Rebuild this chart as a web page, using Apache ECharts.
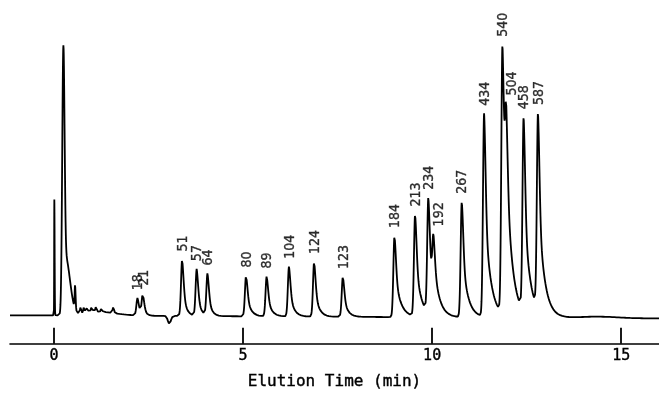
<!DOCTYPE html>
<html>
<head>
<meta charset="utf-8">
<script src="https://cdn.jsdelivr.net/npm/echarts@6/dist/echarts.min.js"></script>
<style>
html,body{margin:0;padding:0;background:#fff;}
#c{width:659px;height:395px;}
</style>
</head>
<body>
<div id="c"></div>
<script>
// ---- Data ----
const tickValues = [0, 5, 10, 15];
const axisTitle = 'Elution Time (min)';

// Labelled peaks (retention time in min, height above baseline, tail constant in min)
const peakLabels  = ['18','21','51','57','64','80','89','104','124','123','184','213','234','192','267','434','540','504','458','587'];
const peakTimes   = [2.21, 2.35, 3.39, 3.775, 4.06, 5.08, 5.625, 6.215, 6.88, 7.64, 9.005, 9.55, 9.90, 10.035, 10.785, 11.375, 11.86, 11.96, 12.42, 12.80];
const peakHeights = [18, 22, 58, 48, 43, 42, 41, 51, 56, 41, 83, 104, 117, 56, 118, 207, 273, 127, 197, 199];
const peakTails   = [0.055, 0.055, 0.08, 0.08, 0.08, 0.10, 0.10, 0.10, 0.10, 0.10, 0.14, 0.14, 0.14, 0.14, 0.14, 0.15, 0.15, 0.15, 0.15, 0.15];

// Unlabelled features: injection spike, solvent front, noise, dip
const minorTimes   = [0.008, 0.246, 0.30, 0.556, 0.706, 0.794, 0.881, 0.997, 1.111, 1.262, 1.569, 1.10, 3.05, 14.4];
const minorHeights = [118, 262, 60, 24, 7, 7, 6, 6, 5, 5, 6, 4, -8, 1.5];
const minorRise    = [0.004, 0.03, 0.03, 0.01, 0.018, 0.018, 0.018, 0.018, 0.018, 0.018, 0.02, 0.3, 0.04, 0.5];
const minorFall    = [0.008, 0.03, 0.12, 0.015, 0.018, 0.018, 0.018, 0.018, 0.018, 0.018, 0.02, 0.5, 0.04, 0.5];
const baselineDrift = -0.2; // per minute

// ---- Build trace ----
function shape(dt, sL, sR, tau, f) {
  if (dt < 0) return Math.exp(-dt * dt / (2 * sL * sL));
  const g = Math.exp(-dt * dt / (2 * sR * sR));
  const e = tau > 0 ? Math.exp(-dt / tau) : 0;
  return (1 - f) * g + f * e;
}
function signal(t) {
  let v = baselineDrift * Math.max(t, 0);
  for (let i = 0; i < peakTimes.length; i++) {
    v += peakHeights[i] * shape(t - peakTimes[i], 0.03, 0.04, peakTails[i], 0.6);
  }
  for (let i = 0; i < minorTimes.length; i++) {
    v += minorHeights[i] * shape(t - minorTimes[i], minorRise[i], minorFall[i], 0, 0);
  }
  return v;
}
const xMin = -1.164, xMax = 16.0;
const trace = [];
for (let t = xMin; t <= xMax + 1e-9; t += 0.002) trace.push([t, signal(t)]);

const pxPerMin = 649 / (xMax - xMin);
const labelNudgePx = {'192': 6, '504': 6};
const labelPoints = peakLabels.map((lab, i) => {
  const dx = (labelNudgePx[lab] !== undefined ? labelNudgePx[lab] : 1) / pxPerMin;
  return { value: [peakTimes[i] + dx, signal(peakTimes[i])], name: lab };
});

const chart = echarts.init(document.getElementById('c'), null, {renderer: 'canvas'});
chart.setOption({
  animation: false,
  grid: {left: 10, right: 0, top: 0, bottom: 45, containLabel: false},
  xAxis: {
    type: 'value', min: xMin, max: xMax,
    axisLine: {show: true, onZero: false, lineStyle: {color: '#000', width: 1.6}},
    axisTick: {show: true, inside: true, length: 16, customValues: tickValues, lineStyle: {color: '#000', width: 1.8}},
    axisLabel: {show: true, customValues: tickValues, margin: 5, color: '#000', fontSize: 15,
      fontFamily: 'DejaVu Sans Mono', textBorderColor: '#000', textBorderWidth: 0.4, formatter: v => String(v)},
    splitLine: {show: false},
    name: axisTitle, nameLocation: 'middle', nameGap: 30,
    nameTextStyle: {color: '#000', fontSize: 16, fontFamily: 'DejaVu Sans Mono', textBorderColor: '#000', textBorderWidth: 0.4}
  },
  yAxis: {type: 'value', min: -29, max: 321, show: false},
  series: [
    {type: 'line', data: trace, symbol: 'none', showSymbol: false, silent: true,
      lineStyle: {color: '#000', width: 1.8}, sampling: null},
    {type: 'scatter', data: labelPoints, symbolSize: 1, silent: true,
      itemStyle: {color: 'rgba(0,0,0,0)'},
      label: {show: true, formatter: p => p.name, position: 'top', distance: 7,
        rotate: 90, align: 'left', verticalAlign: 'middle',
        color: '#000', fontSize: 14, fontFamily: '"DejaVu Sans Condensed", sans-serif',
        textBorderColor: '#000', textBorderWidth: 0.35}}
  ]
});
</script>
</body>
</html>
